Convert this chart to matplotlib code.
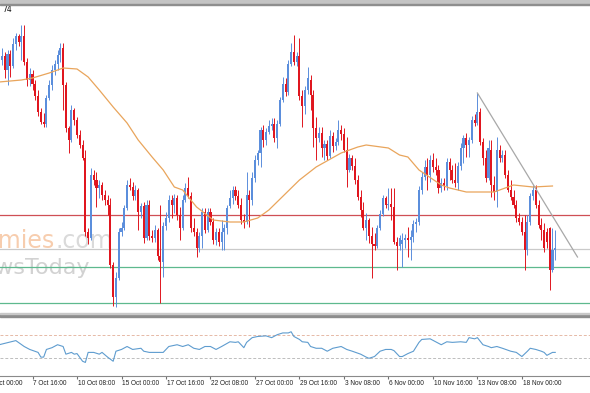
import matplotlib
matplotlib.use("Agg")
import matplotlib.pyplot as plt
import numpy as np

# price levels in pips above 1.1500, one candle per H4 bar (bar 5 .. 204)
first_bar = 5
opens = [260, 264, 250, 266, 254, 276, 284, 278, 284, 258,
         240, 246, 236, 224, 208, 198, 196, 222, 235, 250,
         256, 265, 272, 235, 192, 180, 210, 200, 185, 175,
         162, 88, 82, 145, 140, 132, 135, 125, 120, 115,
         55, 23, 42, 88, 92, 112, 135, 133, 124, 130,
         108, 114, 82, 115, 84, 82, 90, 64, 58, 94,
         102, 120, 115, 122, 105, 92, 120, 132, 124, 92,
         88, 72, 84, 108, 90, 108, 98, 80, 88, 78,
         88, 92, 114, 122, 130, 124, 115, 100, 98, 125,
         120, 142, 160, 167, 190, 180, 188, 194, 196, 182,
         196, 220, 236, 228, 256, 268, 258, 264, 224, 214,
         230, 240, 225, 192, 182, 187, 172, 176, 164, 184,
         174, 178, 190, 186, 170, 150, 162, 154, 140, 123,
         110, 92, 100, 84, 76, 74, 92, 106, 122, 115,
         116, 113, 78, 74, 76, 80, 82, 80, 83, 96,
         98, 130, 143, 153, 145, 160, 153, 150, 132, 137,
         134, 158, 150, 140, 137, 154, 172, 182, 175, 180,
         200, 197, 208, 178, 162, 142, 170, 135, 128, 170,
         162, 165, 145, 130, 123, 115, 102, 98, 88, 70,
         98, 124, 130, 115, 95, 90, 88, 92, 50, 70]
highs = [272, 268, 270, 270, 282, 287, 286, 295, 295, 262,
         252, 250, 240, 230, 212, 207, 225, 240, 255, 260,
         270, 277, 277, 238, 194, 215, 212, 203, 190, 180,
         170, 92, 152, 150, 148, 140, 138, 130, 125, 122,
         58, 48, 92, 98, 115, 140, 142, 138, 135, 132,
         117, 118, 120, 120, 90, 95, 92, 115, 98, 108,
         125, 125, 126, 125, 113, 125, 137, 143, 128, 102,
         92, 88, 112, 112, 112, 112, 102, 92, 92, 100,
         96, 115, 130, 134, 134, 130, 122, 106, 148, 130,
         148, 165, 170, 193, 195, 192, 200, 202, 202, 200,
         223, 243, 242, 260, 277, 285, 268, 282, 230, 234,
         253, 245, 230, 203, 193, 193, 180, 180, 190, 188,
         182, 200, 195, 192, 183, 166, 165, 162, 145, 130,
         118, 107, 102, 93, 87, 95, 110, 125, 124, 132,
         132, 132, 83, 85, 87, 86, 93, 90, 100, 102,
         134, 148, 160, 162, 165, 167, 162, 155, 142, 142,
         162, 162, 155, 157, 158, 177, 185, 187, 183, 204,
         206, 227, 212, 182, 170, 180, 180, 144, 183, 175,
         170, 170, 150, 140, 130, 120, 107, 103, 105, 105,
         127, 135, 135, 120, 102, 97, 92, 93, 92, 90]
lows = [255, 242, 235, 243, 252, 270, 274, 260, 255, 234,
        234, 230, 220, 204, 196, 193, 193, 220, 230, 245,
        250, 258, 210, 188, 167, 178, 195, 182, 172, 160,
        84, 76, 80, 135, 113, 122, 120, 115, 105, 52,
        14, 13, 40, 84, 90, 110, 130, 120, 120, 90,
        102, 77, 80, 80, 78, 78, 60, 17, 43, 90,
        98, 102, 107, 100, 80, 90, 118, 122, 88, 84,
        63, 68, 72, 87, 88, 95, 76, 75, 74, 70,
        70, 86, 112, 116, 120, 112, 96, 92, 96, 93,
        115, 138, 155, 153, 173, 175, 186, 190, 178, 172,
        194, 218, 224, 225, 254, 255, 254, 220, 193, 206,
        226, 210, 173, 160, 178, 163, 160, 160, 162, 168,
        170, 175, 180, 168, 133, 148, 150, 136, 120, 103,
        90, 80, 77, 42, 70, 72, 90, 104, 112, 110,
        100, 76, 50, 70, 53, 72, 63, 60, 78, 88,
        95, 126, 140, 130, 138, 148, 145, 127, 128, 130,
        130, 140, 137, 133, 130, 150, 157, 163, 163, 177,
        194, 195, 175, 155, 138, 140, 123, 120, 113, 158,
        158, 142, 128, 120, 112, 98, 95, 85, 50, 65,
        95, 120, 112, 92, 80, 68, 72, 30, 48, 60]
closes = [264, 250, 266, 254, 276, 284, 278, 284, 258, 240,
          246, 236, 224, 208, 198, 196, 222, 235, 250, 256,
          265, 272, 235, 192, 180, 210, 200, 185, 175, 162,
          88, 82, 145, 140, 132, 135, 125, 120, 115, 55,
          23, 42, 88, 92, 112, 135, 133, 124, 130, 108,
          114, 82, 115, 84, 82, 90, 64, 58, 94, 102,
          120, 115, 122, 105, 92, 120, 132, 124, 92, 88,
          72, 84, 108, 90, 108, 98, 80, 88, 78, 88,
          92, 112, 122, 130, 124, 115, 100, 98, 125, 120,
          142, 160, 167, 190, 180, 188, 194, 196, 182, 196,
          220, 236, 228, 256, 268, 258, 264, 224, 214, 230,
          242, 225, 192, 182, 187, 172, 176, 164, 184, 174,
          178, 190, 186, 170, 150, 162, 154, 140, 123, 110,
          92, 100, 84, 76, 74, 92, 106, 122, 115, 116,
          113, 78, 74, 82, 80, 82, 80, 83, 96, 98,
          130, 143, 153, 145, 160, 153, 150, 132, 137, 134,
          158, 150, 140, 137, 154, 172, 182, 175, 180, 200,
          197, 208, 178, 162, 142, 172, 135, 128, 170, 162,
          165, 145, 130, 123, 115, 102, 98, 88, 70, 98,
          124, 130, 115, 95, 90, 72, 78, 50, 70, 72]

# moving average (bar, pips)
ma_bars = [4, 12, 16, 22, 27, 32, 36, 40, 45, 50, 54, 59, 63, 67, 70, 75, 81, 87, 92,
           97, 101, 112, 118, 127, 133, 136, 144, 148, 151, 155, 163, 166, 172, 182,
           189, 196, 203]
ma_pips = [238, 240, 242, 247, 252, 251, 243, 230, 213, 197, 180, 163, 150, 133, 130,
           113, 100, 98, 98, 102, 110, 140, 153, 167, 173, 175, 172, 165, 163, 150, 135,
           132, 128, 128, 135, 133, 134]

# support / resistance lines and trend line (pips)
red_level = 105
gray_level = 71
green_levels = [53, 17]
trend_bars = [176, 212]
trend_pips = [227, 63]

# oscillator (0-100)
rsi_bars = [4, 10, 13, 15, 18, 19, 20, 21, 23, 25, 27, 28, 30, 31, 32, 34, 35, 36, 38, 40,
            41, 43, 45, 46, 48, 50, 52, 55, 56, 58, 61, 63, 65, 68, 70, 72, 74, 76, 78, 80,
            82, 84, 87, 89, 90, 92, 93, 95, 97, 100, 102, 104, 106, 108, 109, 110, 112, 113,
            115, 116, 118, 120, 122, 124, 125, 127, 129, 131, 134, 136, 137, 139, 141, 143,
            145, 146, 148, 149, 151, 153, 155, 156, 159, 161, 163, 165, 167, 170, 172, 173,
            175, 176, 178, 180, 181, 183, 185, 188, 190, 192, 194, 195, 197, 199, 200, 201,
            203, 204]
rsi_vals = [53, 60, 50, 45, 40, 32, 32, 45, 48, 53, 50, 37, 40, 37, 38, 25, 23, 40, 40, 37,
            40, 32, 25, 42, 45, 50, 45, 47, 42, 40, 40, 40, 50, 53, 50, 53, 47, 45, 50, 50,
            45, 50, 58, 57, 58, 48, 57, 65, 67, 68, 65, 70, 73, 73, 75, 67, 62, 58,
            57, 50, 47, 47, 42, 47, 48, 50, 45, 42, 37, 32, 30, 33, 42, 45,
            45, 43, 33, 33, 38, 42, 57, 62, 63, 58, 53, 58, 57, 58, 57, 65,
            63, 65, 53, 50, 48, 50, 47, 42, 40, 33, 42, 47, 45, 42, 40, 35,
            40, 40]

tick_bars = [0, 16, 32, 48, 64, 80, 96, 112, 128, 144, 160, 176, 192]
tick_labels = ['3 Oct 00:00', '7 Oct 16:00', '10 Oct 08:00', '15 Oct 00:00', '17 Oct 16:00',
               '22 Oct 08:00', '27 Oct 00:00', '29 Oct 16:00', '3 Nov 08:00', '6 Nov 00:00',
               '10 Nov 16:00', '13 Nov 08:00', '18 Nov 00:00']

BASE = 1.1500
PIP = 0.0001
BLUE = '#5B8EDC'
RED = '#E0161F'

W, H = 590, 393
fig = plt.figure(figsize=(W / 100, H / 100), dpi=100)
fig.patch.set_facecolor('white')

ax = fig.add_axes([0, 1 - 312 / H, 1, 306 / H])
ax2 = fig.add_axes([0, 1 - 376 / H, 1, 59 / H])

x_lo, x_hi = 4.3, 216.5
bars = np.arange(first_bar, first_bar + len(closes))
o = BASE + np.array(opens) * PIP
h = BASE + np.array(highs) * PIP
l = BASE + np.array(lows) * PIP
c = BASE + np.array(closes) * PIP
colors = np.where(c >= o, BLUE, RED)

# levels
ax.axhline(BASE + red_level * PIP, color='#CF4F55', lw=0.9, zorder=1)
ax.axhline(BASE + gray_level * PIP, color='#CACACA', lw=0.9, zorder=1)
for g in green_levels:
    ax.axhline(BASE + g * PIP, color='#5DB98E', lw=0.9, zorder=1)

# candles
ax.vlines(bars, l, h, colors=colors, lw=0.7, zorder=3)
ax.bar(bars, np.maximum(np.abs(c - o), 0.8 * PIP), bottom=np.minimum(o, c),
       width=0.75, color=colors, lw=0, zorder=3)

ax.plot(ma_bars, BASE + np.array(ma_pips) * PIP, color='#E9A55C', lw=0.9, zorder=4)
ax.plot(trend_bars, BASE + np.array(trend_pips) * PIP, color='#A8A8A8', lw=0.9, zorder=4)

ax.set_xlim(x_lo, x_hi)
ax.set_ylim(BASE + 8 * PIP, BASE + 314 * PIP)
ax.set_xticks([])
ax.set_yticks([])
for s in ax.spines.values():
    s.set_visible(False)

# watermark (cut by the left edge, as in the screenshot)
ax.text(55 / W, 1 - 248 / H, 'Economies', transform=fig.transFigure, ha='right',
        va='baseline', fontsize=17, color='#F7CDAE', zorder=0)
ax.text(55 / W, 1 - 248 / H, '.com', transform=fig.transFigure, ha='left',
        va='baseline', fontsize=17, color='#DADADA', zorder=0)
ax.text(90 / W, 1 - 274 / H, 'NewsToday', transform=fig.transFigure, ha='right',
        va='baseline', fontsize=16, color='#D2D2D2', zorder=0)

# oscillator panel
ax2.axhline(70, color='#E6B9A6', lw=0.7, ls=(0, (3, 2)))
ax2.axhline(30, color='#BDBDBD', lw=0.7, ls=(0, (3, 2)))
ax2.plot(rsi_bars, rsi_vals, color='#5E9CCF', lw=0.8)
ax2.set_xlim(x_lo, x_hi)
ax2.set_ylim(0, 100)
ax2.set_yticks([])
ax2.set_xticks(tick_bars[1:])
ax2.set_xticklabels([])
ax2.tick_params(axis='x', length=2, color='#707070')
for side in ['top', 'left', 'right']:
    ax2.spines[side].set_visible(False)
ax2.spines['bottom'].set_color('#8A8A8A')
ax2.spines['bottom'].set_linewidth(0.8)
for b, t in zip(tick_bars, tick_labels):
    ax2.text(b + 0.3, -0.07, t, transform=ax2.get_xaxis_transform(), ha='left', va='top',
             fontsize=4.7, family='Liberation Sans', color='#202020', clip_on=False)

# frame bits
fig.patches.append(plt.Rectangle((0, 1 - 4 / H), 1, 4 / H, transform=fig.transFigure,
                                 color='#C4C4C4', zorder=5))
fig.patches.append(plt.Rectangle((0, 1 - 5 / H), 1, 1 / H, transform=fig.transFigure,
                                 color='#8E8E8E', zorder=5))
fig.patches.append(plt.Rectangle((0, 1 - 317 / H), 1, 3 / H, transform=fig.transFigure,
                                 color='#8C8C8C', zorder=5))
fig.patches.append(plt.Rectangle((0, 1 - 313.5 / H), 1, 1 / H, transform=fig.transFigure,
                                 color='#C8C8C8', zorder=5))
fig.text(2 / W, 1 - 10 / H, '74', fontsize=5.5, va='center', ha='left', color='#111111')

fig.savefig('out.png', dpi=100)
